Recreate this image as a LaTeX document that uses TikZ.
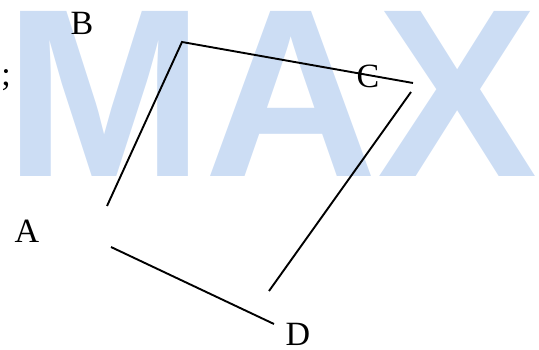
\documentclass[tikz,border=0pt]{standalone}
\usepackage{fontspec}
\setmainfont{Liberation Serif}
\newfontfamily\wmfont{Liberation Sans}
\usetikzlibrary{positioning}
\definecolor{wmblue}{RGB}{204,221,244}
\tikzset{
  lbl/.style={inner sep=0pt, font=\fontsize{34}{34}\selectfont},
  edge/.style={line width=1.9pt},
}
\begin{document}
\begin{tikzpicture}[x=1pt, y=-1pt]
    \useasboundingbox (0,0) rectangle (539,350);
    % watermark
    \node[inner sep=0pt, anchor=base west, text=wmblue,
      font=\wmfont\bfseries\fontsize{240}{240}\selectfont] (wm) at (4,177) {MAX};
    % corner ends
    \coordinate (a1) at (107,206);
    \coordinate (a2) at (111,247);
    \coordinate (b) at (182,42);
    \coordinate (c1) at (413,83);
    \coordinate (c2) at (411,92);
    \coordinate (d1) at (269,291);
    \coordinate (d2) at (274,324);
    \draw[edge] (a1) -- (b) -- (c1);
    \draw[edge] (c2) -- (d1);
    \draw[edge] (a2) -- (d2);
    % labels
    \node[lbl] (labA) at (27,231) {A};
    \node[lbl] (labB) at (82,23) {B};
    \node[lbl] (labC) at (368,76) {C};
    \node[lbl] (labD) at (298,334) {D};
    \node[lbl] (semi) at (6,80) {;};
  \end{tikzpicture}
\end{document}
